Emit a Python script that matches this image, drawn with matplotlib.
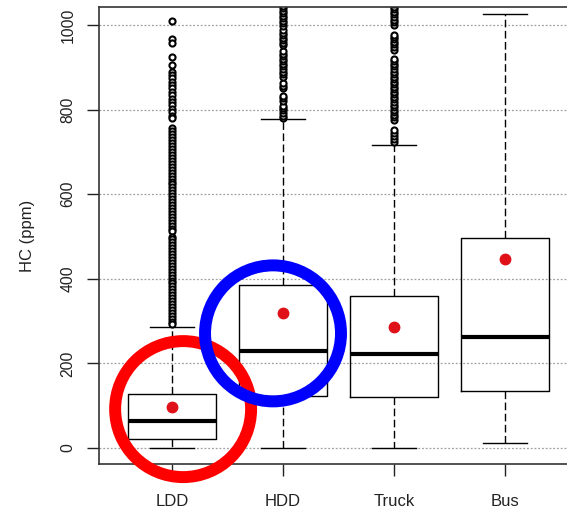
import matplotlib
matplotlib.use("Agg")
import matplotlib.pyplot as plt
from matplotlib.patches import Ellipse

plt.rcParams['font.family'] = ['Liberation Sans', 'DejaVu Sans']

groups = ['LDD', 'HDD', 'Truck', 'Bus']
q1 = [22, 123, 121, 135]
medians = [64, 229, 222, 263]
q3 = [128, 385, 360, 496]
means = [96, 318, 286, 448]
whis_lo = [0, 0, 0, 12]
whis_hi = [287, 777, 716, 1025]

ldd_out = [1010, 966, 957, 924, 905,
           890, 882, 874, 866, 858, 850, 842, 834, 826, 818, 810, 802, 794, 786, 780,
           756, 749, 742, 735, 728, 721, 714, 707, 700, 693, 686, 679, 672, 665, 658,
           651, 644, 637, 630, 623, 616, 609, 602, 595, 588, 581, 574, 567, 560, 553,
           546, 539, 532, 525, 518, 512, 500, 494, 487, 480, 473, 466, 459, 452, 445,
           438, 431, 424, 417, 410, 403, 396, 389, 382, 375, 368, 361, 354, 347, 340,
           333, 326, 319, 312, 305, 298, 292]
hdd_out = [781, 786, 792, 798, 804, 809, 821, 827, 833, 850, 856, 862, 878, 884,
           890, 896, 902, 908, 914, 920, 926, 932, 938, 952, 958, 964, 970, 976,
           982, 988, 998, 1004, 1010, 1016, 1022, 1028, 1034, 1040, 1046, 1060]
truck_out = [724, 730, 737, 744, 752, 776, 782, 788, 794, 800, 806, 812, 818, 824,
             830, 836, 842, 848, 854, 860, 866, 872, 878, 884, 890, 896, 902, 908,
             914, 920, 942, 948, 954, 960, 966, 972, 976, 1001, 1007, 1013, 1019,
             1025, 1031, 1037, 1043, 1050]
bus_out = []
outliers = [ldd_out, hdd_out, truck_out, bus_out]

y_ticks = [0, 200, 400, 600, 800, 1000]

# highlight rings (centre x, centre y in data units)
red_ring = (1.10, 92)
blue_ring = (1.91, 271)

stats = []
for i, g in enumerate(groups):
    stats.append({'label': g, 'q1': q1[i], 'med': medians[i], 'q3': q3[i],
                  'mean': means[i], 'whislo': whis_lo[i], 'whishi': whis_hi[i],
                  'fliers': outliers[i]})

fig = plt.figure(figsize=(5.67, 5.14), dpi=100)
ax = fig.add_axes([99 / 567, 50 / 514, 470 / 567, 457 / 514])

ax.yaxis.grid(True, linestyle=(0, (1.5, 1.5)), color='#a0a0a0', lw=0.9, zorder=0)
ax.set_axisbelow(True)

ax.bxp(stats, positions=[1, 2, 3, 4], widths=0.8, showmeans=True,
       boxprops=dict(color='black', lw=1.0),
       medianprops=dict(color='black', lw=3),
       whiskerprops=dict(color='black', lw=1.0, linestyle=(0, (5.5, 2.5))),
       capprops=dict(color='black', lw=1.0),
       flierprops=dict(marker='o', markerfacecolor='white', markeredgecolor='black',
                       markersize=4.4, markeredgewidth=1.5),
       meanprops=dict(marker='o', markerfacecolor='#e01018', markeredgecolor='#e01018',
                      markersize=7.5))

for (cx, cy), col in [(red_ring, '#ff0000'), (blue_ring, '#0000ff')]:
    ax.add_patch(Ellipse((cx, cy), 1.225, 321.5, fill=False, edgecolor=col,
                         lw=8.6, zorder=6, clip_on=False))

ax.set_xlim(0.342, 4.577)
ax.set_ylim(-37.8, 1042.6)
ax.set_yticks(y_ticks)
ax.set_xticks([1, 2, 3, 4])
ax.set_xticklabels(groups, fontsize=12)
ax.tick_params(axis='x', length=8.6, width=1.0, pad=13, color='#222222')
ax.tick_params(axis='y', length=8.6, width=1.0, pad=8.5, labelsize=11.3,
               labelrotation=90, color='#222222')
for lab in ax.get_yticklabels():
    lab.set_va('center')
    lab.set_color('#222222')
for lab in ax.get_xticklabels():
    lab.set_color('#222222')

ax.set_ylabel('HC (ppm)', fontsize=12, color='#222222')
ax.yaxis.set_label_coords(-0.136, 0.5)

for s in ['left', 'bottom', 'top']:
    ax.spines[s].set_color('#333333')
    ax.spines[s].set_linewidth(1.2)
ax.spines['right'].set_visible(False)

fig.savefig('out.png', dpi=100)
